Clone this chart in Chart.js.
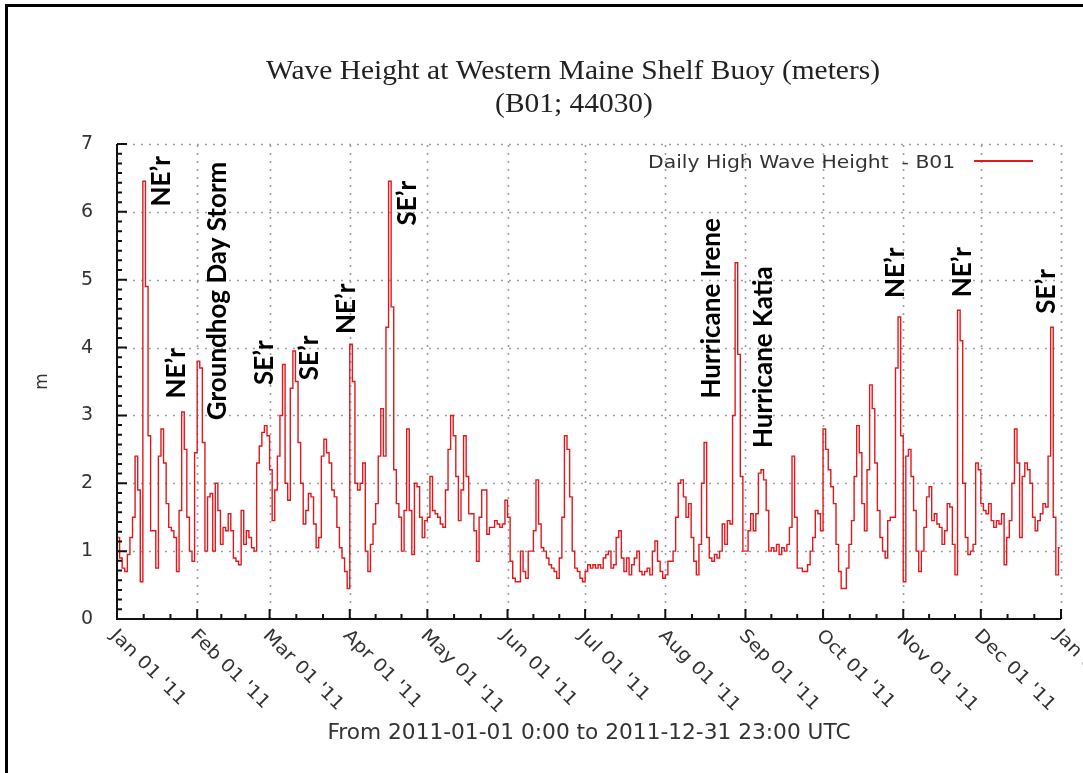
<!DOCTYPE html>
<html>
<head>
<meta charset="utf-8">
<script src="https://cdn.jsdelivr.net/npm/chart.js@4.4.1/dist/chart.umd.min.js"></script>
<style>
html, body { margin: 0; padding: 0; background: #fff; overflow: hidden; }
#wrap { position: relative; width: 1083px; height: 773px; }
#frame { position: absolute; left: 5px; top: 4px; width: 1200px; height: 900px;
  border-left: 3px solid #000; border-top: 3px solid #000; pointer-events: none; }
</style>
</head>
<body>
<div id="wrap"><canvas id="chart" width="1083" height="773"></canvas><div id="frame"></div></div>
<script>
'use strict';

// daily high wave height (m), B01, 2011 — one array per month
const jan = [1.2, 0.9, 0.75, 0.7, 0.95, 1.2, 1.5, 2.4, 1.9, 0.55, 6.45, 4.9, 2.7, 1.3, 1.3, 0.75, 2.4, 2.8, 2.3, 1.7, 1.35, 1.3, 1.2, 0.7, 1.6, 3.05, 2.5, 1.5, 1.0, 0.85, 2.45];
const feb = [3.8, 3.7, 2.6, 1.0, 1.8, 1.85, 1.0, 2.0, 1.6, 1.1, 1.35, 1.3, 1.55, 1.3, 0.9, 0.85, 0.8, 1.6, 1.1, 1.3, 1.2, 1.05, 1.0, 2.3, 2.55, 2.75, 2.85, 2.7];
const mar = [2.2, 1.45, 1.9, 2.4, 3.0, 3.75, 2.0, 1.75, 3.4, 3.95, 3.5, 2.6, 2.0, 1.4, 1.6, 1.85, 1.8, 1.4, 1.05, 1.2, 2.4, 2.65, 2.45, 2.3, 1.9, 1.8, 1.35, 1.05, 0.9, 0.7, 0.45];
const apr = [4.05, 3.5, 2.0, 1.9, 2.0, 2.3, 1.0, 0.7, 1.1, 1.4, 1.7, 2.4, 3.1, 2.4, 4.3, 6.45, 4.6, 2.2, 1.7, 1.5, 1.0, 1.6, 2.8, 1.6, 0.95, 2.0, 1.95, 1.5, 1.2, 1.45];
const may = [1.5, 2.1, 1.6, 1.55, 1.5, 1.4, 1.35, 1.9, 2.5, 3.0, 2.7, 2.1, 1.45, 1.9, 2.7, 2.1, 1.55, 1.55, 1.3, 0.85, 1.5, 1.9, 1.9, 1.25, 1.35, 1.35, 1.45, 1.4, 1.35, 1.4, 1.75];
const jun = [1.5, 0.85, 0.6, 0.55, 0.55, 1.0, 0.7, 0.6, 1.0, 1.0, 1.3, 2.05, 1.4, 1.05, 1.0, 0.9, 0.8, 0.75, 0.7, 0.6, 0.9, 1.5, 2.7, 2.5, 1.8, 1.0, 0.75, 0.7, 0.6, 0.55];
const jul = [0.7, 0.8, 0.75, 0.8, 0.75, 0.8, 0.75, 0.9, 0.95, 1.0, 0.75, 0.8, 1.2, 1.3, 0.9, 0.7, 0.9, 0.65, 0.8, 0.9, 1.0, 0.7, 0.65, 0.7, 0.75, 0.65, 1.0, 1.15, 0.85, 0.7, 0.6];
const aug = [0.65, 0.85, 0.85, 1.0, 1.5, 2.0, 2.05, 1.8, 1.5, 1.7, 1.2, 0.85, 0.65, 1.1, 2.0, 2.6, 1.2, 0.9, 0.85, 0.95, 0.9, 1.0, 1.4, 1.1, 1.45, 1.4, 3.0, 5.25, 3.9, 2.1, 1.0];
const sep = [1.0, 1.3, 1.55, 1.3, 1.55, 2.15, 2.2, 2.05, 1.6, 1.0, 1.05, 1.0, 1.1, 0.95, 1.05, 1.0, 1.1, 1.35, 2.4, 1.5, 0.75, 0.75, 0.7, 0.7, 0.8, 1.0, 1.2, 1.6, 1.55, 1.3];
const oct = [2.8, 2.5, 2.2, 1.95, 1.7, 1.1, 0.7, 0.45, 0.45, 0.75, 1.1, 1.45, 2.1, 2.85, 2.45, 1.7, 1.3, 2.2, 3.45, 3.1, 2.3, 1.6, 1.2, 1.0, 0.9, 1.45, 1.5, 1.5, 3.7, 4.45, 2.7];
const nov = [0.55, 2.4, 2.5, 2.1, 1.6, 1.0, 0.7, 1.0, 1.35, 1.8, 1.95, 1.45, 1.55, 1.4, 1.35, 1.1, 1.3, 1.7, 1.65, 1.1, 0.65, 4.55, 4.1, 2.0, 1.2, 0.95, 1.0, 1.1, 2.3, 2.2];
const dec = [1.7, 1.6, 1.55, 1.7, 1.45, 1.35, 1.45, 1.4, 1.55, 0.8, 1.2, 1.45, 2.0, 2.8, 2.3, 1.2, 2.1, 2.3, 2.2, 2.0, 1.5, 1.3, 1.45, 1.55, 1.7, 1.65, 2.4, 4.3, 1.5, 0.65, 1.05];

// x axis: day of year at each month start, and its labels
const monthStart = [0, 31, 59, 90, 120, 151, 181, 212, 243, 273, 304, 334, 365];
const monthLabels = ["Jan 01 '11", "Feb 01 '11", "Mar 01 '11", "Apr 01 '11", "May 01 '11", "Jun 01 '11",
  "Jul 01 '11", "Aug 01 '11", "Sep 01 '11", "Oct 01 '11", "Nov 01 '11", "Dec 01 '11", "Jan 01 '12"];

// storm notes: text, day of year, height where the text starts
const noteText = ['NE\u2019r', 'NE\u2019r', 'Groundhog Day Storm', 'SE\u2019r', 'SE\u2019r', 'NE\u2019r', 'SE\u2019r',
  'Hurricane Irene', 'Hurricane Katia', 'NE\u2019r', 'NE\u2019r', 'SE\u2019r'];
const noteDay = [17.4, 23.2, 38.9, 57.2, 74.6, 88.9, 112.5, 230.1, 250.2, 301.2, 326.8, 359.6];
const noteHeight = [6.08, 3.25, 2.93, 3.45, 3.52, 4.2, 5.8, 3.25, 2.52, 4.73, 4.74, 4.5];

const heights = [].concat(jan, feb, mar, apr, may, jun, jul, aug, sep, oct, nov, dec);
const RED = 'rgb(226,24,28)';
const TXT = '#333';

// draw text stretched a little sideways, like the source image
function wideText(ctx, text, px, py, sx) {
  ctx.save();
  ctx.translate(px, py);
  ctx.scale(sx, 1);
  ctx.fillText(text, 0, 0);
  ctx.restore();
}

const decor = {
  id: 'decor',
  beforeDatasetsDraw(chart) {
    const {ctx, chartArea: a, scales: {x, y}} = chart;
    ctx.save();
    ctx.strokeStyle = '#a0a0a0';
    ctx.lineWidth = 1.6;
    ctx.setLineDash([2, 6]);
    ctx.beginPath();
    for (let v = 1; v <= 7; v++) {
      const py = Math.round(y.getPixelForValue(v)) + 0.5;
      ctx.moveTo(a.left, py); ctx.lineTo(a.right, py);
    }
    monthStart.slice(1).forEach(d => {
      const px = Math.round(x.getPixelForValue(d)) + 0.5;
      ctx.moveTo(px, a.bottom); ctx.lineTo(px, a.top);
    });
    ctx.stroke();
    ctx.restore();
  },
  afterDatasetsDraw(chart) {
    const {ctx, chartArea: a, scales: {x, y}} = chart;
    ctx.save();
    // axes + inward ticks
    ctx.strokeStyle = '#111';
    ctx.lineWidth = 2;
    ctx.beginPath();
    ctx.moveTo(a.left, a.top); ctx.lineTo(a.left, a.bottom); ctx.lineTo(a.right, a.bottom);
    for (let i = 0; i < monthStart.length; i++) {
      const px = x.getPixelForValue(monthStart[i]);
      ctx.moveTo(px, a.bottom); ctx.lineTo(px, a.bottom - 10);
      if (i < monthStart.length - 1) {
        const len = monthStart[i + 1] - monthStart[i];
        [1, 2].forEach(k => {
          const mx = x.getPixelForValue(monthStart[i] + len * k / 3);
          ctx.moveTo(mx, a.bottom); ctx.lineTo(mx, a.bottom - 5);
        });
      }
    }
    for (let v = 0; v <= 7; v++) {
      const py = y.getPixelForValue(v);
      ctx.moveTo(a.left, py); ctx.lineTo(a.left + 10, py);
      if (v < 7) for (let k = 1; k < 7; k++) {
        const my = y.getPixelForValue(v + k / 7);
        ctx.moveTo(a.left, my); ctx.lineTo(a.left + 5, my);
      }
    }
    ctx.stroke();

    // rotated month labels
    ctx.fillStyle = TXT;
    ctx.font = '18px "DejaVu Sans"';
    ctx.textAlign = 'left';
    ctx.textBaseline = 'middle';
    monthStart.forEach((d, i) => {
      const px = x.getPixelForValue(d);
      ctx.save();
      ctx.translate(px - 4, a.bottom + 14);
      ctx.rotate(Math.PI / 4);
      ctx.scale(1.1, 1);
      ctx.fillText(monthLabels[i], 0, 0);
      ctx.restore();
    });

    // storm notes
    ctx.fillStyle = '#000';
    ctx.font = 'bold 26px Lato';
    ctx.textBaseline = 'middle';
    noteText.forEach((t, i) => {
      ctx.save();
      ctx.translate(x.getPixelForValue(noteDay[i]), y.getPixelForValue(noteHeight[i]));
      ctx.rotate(-Math.PI / 2);
      ctx.fillText(t, 0, 0);
      ctx.restore();
    });

    // legend
    ctx.fillStyle = TXT;
    ctx.font = '18px "DejaVu Sans"';
    ctx.textBaseline = 'alphabetic';
    wideText(ctx, 'Daily High Wave Height  - B01', 648, 168, 1.13);
    ctx.strokeStyle = RED;
    ctx.lineWidth = 2;
    ctx.beginPath(); ctx.moveTo(974, 161); ctx.lineTo(1033, 161); ctx.stroke();

    // title
    ctx.fillStyle = '#222';
    ctx.font = '27px "Liberation Serif"';
    ctx.textAlign = 'center';
    wideText(ctx, 'Wave Height at Western Maine Shelf Buoy (meters)', 573, 79, 1.09);
    wideText(ctx, '(B01; 44030)', 574, 112, 1.09);
    ctx.restore();
  }
};

new Chart(document.getElementById('chart'), {
  type: 'line',
  data: {
    datasets: [{
      label: 'Daily High Wave Height - B01',
      data: heights.map((v, i) => ({x: i + 0.5, y: v})),
      borderColor: RED,
      borderWidth: 1.4,
      pointRadius: 0,
      stepped: 'middle',
      fill: false
    }]
  },
  options: {
    responsive: false,
    animation: false,
    events: [],
    layout: {padding: {top: 144, right: 22, left: 0, bottom: 0}},
    plugins: {legend: {display: false}, tooltip: {enabled: false}},
    scales: {
      x: {
        type: 'linear', min: 0, max: 365,
        grid: {display: false}, border: {display: false},
        ticks: {display: false},
        title: {display: true, text: 'From 2011-01-01 0:00 to 2011-12-31 23:00 UTC',
          color: TXT, font: {family: 'DejaVu Sans', size: 21.7}, padding: {top: 0, bottom: 27}},
        afterFit: s => { s.height = 154; }
      },
      y: {
        min: 0, max: 7,
        grid: {display: false}, border: {display: false},
        ticks: {stepSize: 1, color: TXT, padding: 16, font: {family: 'DejaVu Sans', size: 19}},
        title: {display: true, text: 'm', color: TXT, font: {family: 'DejaVu Sans', size: 17}, padding: {top: 32, bottom: 0}},
        afterFit: s => { s.width = 117; }
      }
    }
  },
  plugins: [decor]
});
</script>
</body>
</html>
